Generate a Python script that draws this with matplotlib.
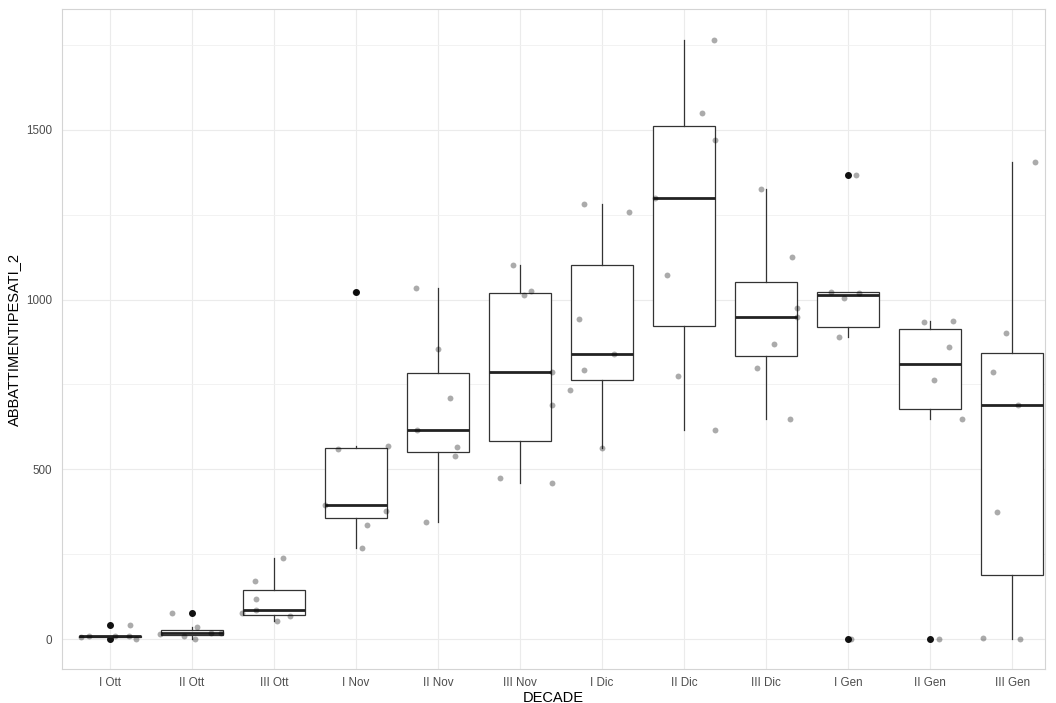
import numpy as np
import matplotlib.pyplot as plt

decades = ['I Ott', 'II Ott', 'III Ott', 'I Nov', 'II Nov', 'III Nov',
           'I Dic', 'II Dic', 'III Dic', 'I Gen', 'II Gen', 'III Gen']

# ABBATTIMENTIPESATI_2 values per decade
i_ott = [0, 7, 8, 8, 9, 41]
ii_ott = [1, 10, 16, 17, 18, 36, 77]
iii_ott = [53, 67, 76, 86, 118, 170, 239]
i_nov = [269, 336, 378, 395, 559, 568, 1022]
ii_nov = [346, 539, 566, 616, 710, 855, 1035]
iii_nov = [460, 476, 691, 787, 1013, 1026, 1101]
i_dic = [562, 734, 792, 841, 943, 1259, 1282]
ii_dic = [615, 774, 1072, 1299, 1470, 1551, 1766]
iii_dic = [648, 798, 869, 949, 976, 1127, 1326]
i_gen = [0, 890, 1005, 1020, 1023, 1368]
ii_gen = [0, 648, 764, 859, 933, 937]
iii_gen = [1, 4, 375, 690, 787, 901, 1406]

# horizontal jitter of each point (category units), as seen in the picture
j_i_ott = [0.32, -0.35, -0.26, 0.23, 0.06, 0.24]
j_ii_ott = [0.04, -0.10, -0.39, 0.35, 0.23, 0.06, -0.24]
j_iii_ott = [0.04, 0.19, -0.39, -0.22, -0.22, -0.23, 0.11]
j_i_nov = [0.07, 0.13, 0.37, -0.38, -0.22, 0.39, -0.01]
j_ii_nov = [-0.15, 0.21, 0.23, -0.26, 0.15, 0.0, -0.27]
j_iii_nov = [0.39, -0.24, 0.39, 0.39, 0.05, 0.13, -0.09]
j_i_dic = [0.0, -0.39, -0.22, 0.15, -0.28, 0.33, -0.22]
j_ii_dic = [0.38, -0.07, -0.21, -0.35, 0.38, 0.22, 0.37]
j_iii_dic = [0.29, -0.11, 0.09, 0.38, 0.38, 0.32, -0.06]
j_i_gen = [0.03, -0.11, -0.05, 0.13, -0.21, 0.10]
j_ii_gen = [0.11, 0.39, 0.05, 0.23, -0.07, 0.28]
j_iii_gen = [0.10, -0.35, -0.18, 0.07, -0.23, -0.07, 0.28]

values = [i_ott, ii_ott, iii_ott, i_nov, ii_nov, iii_nov,
          i_dic, ii_dic, iii_dic, i_gen, ii_gen, iii_gen]
jitter = [j_i_ott, j_ii_ott, j_iii_ott, j_i_nov, j_ii_nov, j_iii_nov,
          j_i_dic, j_ii_dic, j_iii_dic, j_i_gen, j_ii_gen, j_iii_gen]

plt.rcParams['font.family'] = ['Liberation Sans', 'DejaVu Sans']

fig = plt.figure(figsize=(10.56, 7.03), dpi=100)
ax = fig.add_axes([62 / 1056, 34 / 703, 983 / 1056, 660 / 703])

pos = np.arange(1, len(decades) + 1)
line_col = '#333333'
ax.boxplot(values, positions=pos, widths=0.75, whis=1.5, patch_artist=True,
           showcaps=False,
           boxprops=dict(facecolor='white', edgecolor=line_col, linewidth=0.9),
           whiskerprops=dict(color=line_col, linewidth=0.9),
           medianprops=dict(color='#222222', linewidth=2.0),
           flierprops=dict(marker='o', markerfacecolor='#111111',
                           markeredgecolor='#111111', markersize=4.0),
           zorder=2)

for p, vals, jit in zip(pos, values, jitter):
    ax.scatter(p + np.array(jit), vals, s=18, color='black', alpha=0.33,
               linewidths=0, zorder=3)

ax.set_xlim(0.415, 12.4)
ax.set_ylim(-88, 1856)
ax.set_xticks(pos)
ax.set_xticklabels(decades)
ax.set_yticks([0, 500, 1000, 1500])
ax.set_yticks([250, 750, 1250, 1750], minor=True)

ax.grid(True, which='major', color='#ebebeb', linewidth=0.8)
ax.grid(True, which='minor', axis='y', color='#f0f0f0', linewidth=0.6)
ax.set_axisbelow(True)

for s in ax.spines.values():
    s.set_color('#d4d4d4')
    s.set_linewidth(0.8)

ax.tick_params(axis='both', which='both', length=0, labelsize=8.4,
               labelcolor='#4d4d4d')
ax.tick_params(axis='y', pad=7)
ax.tick_params(axis='x', pad=6)

ax.set_xlabel('DECADE', fontsize=10.5, labelpad=1)
ax.set_ylabel('ABBATTIMENTIPESATI_2', fontsize=10.5)
ax.yaxis.set_label_coords(-0.042, 0.5)

fig.savefig('out.png', dpi=100, facecolor='white')
